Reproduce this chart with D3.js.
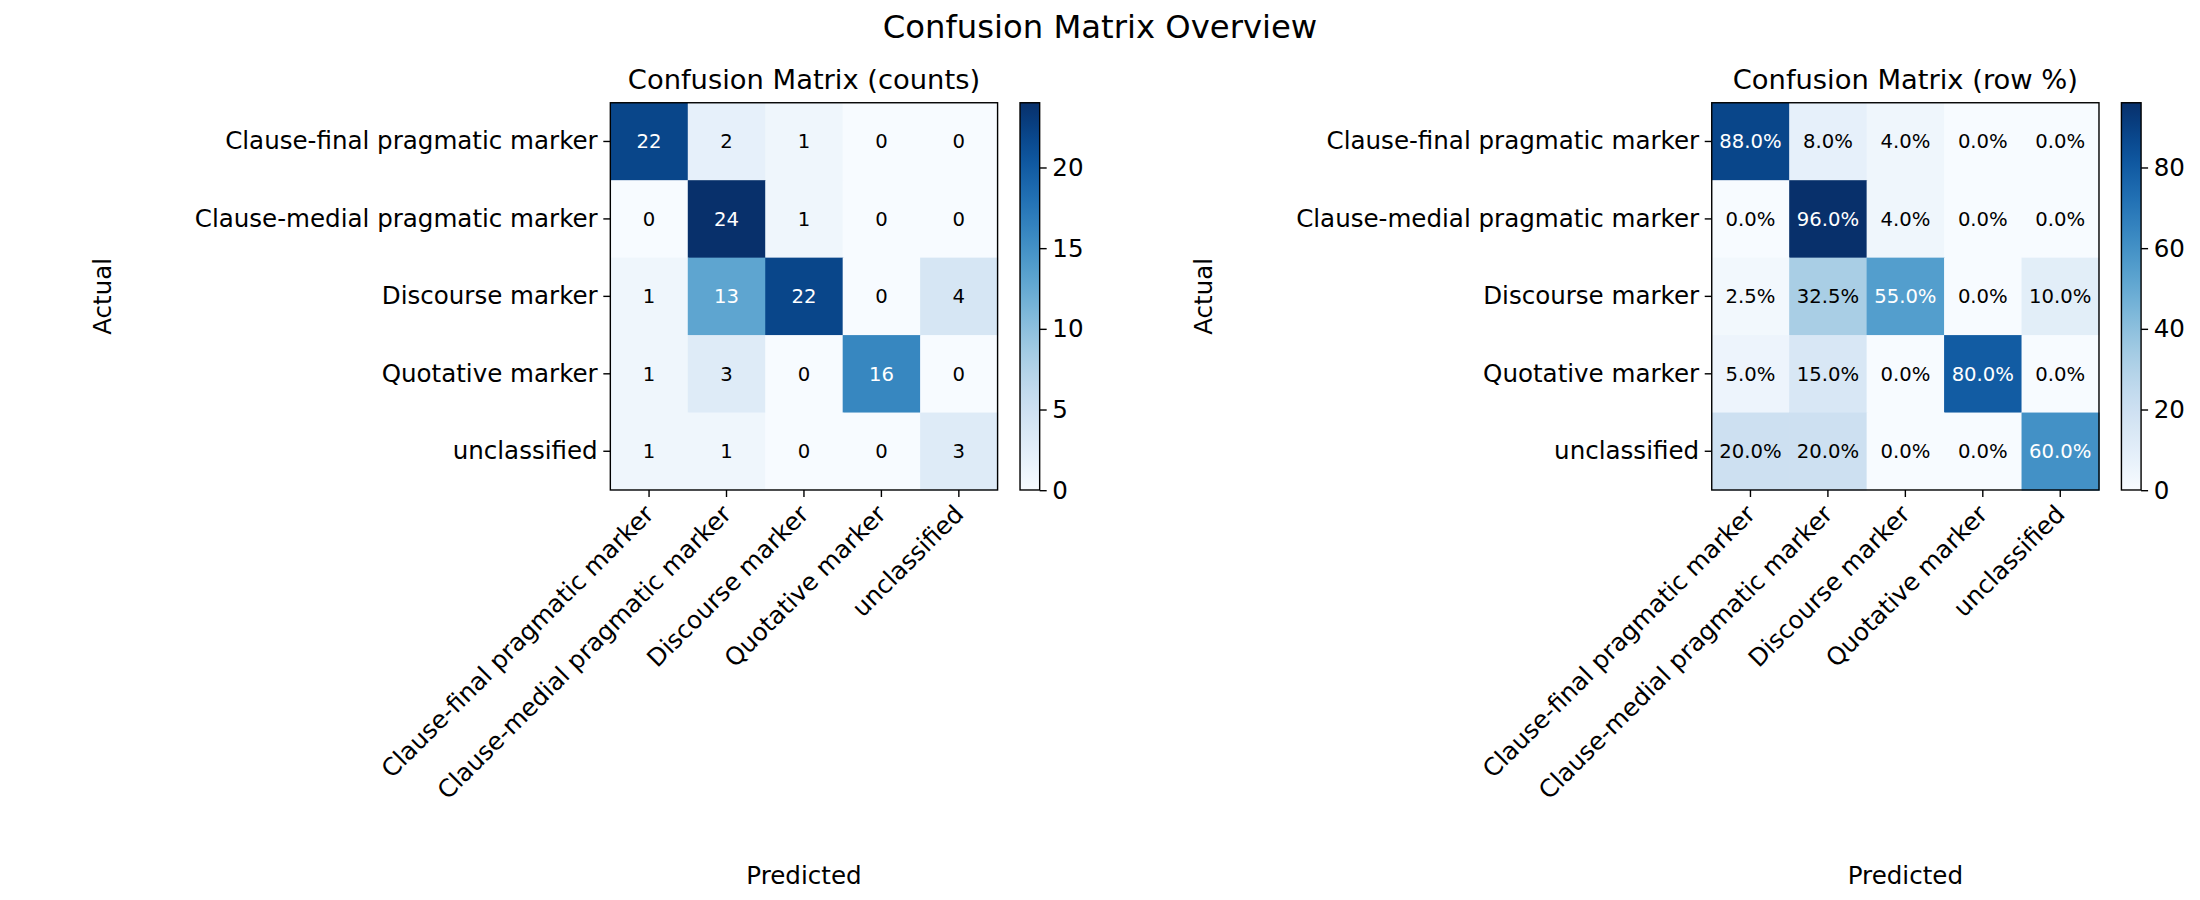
<!DOCTYPE html>
<html>
<head>
<meta charset="utf-8">
<script src="https://cdn.jsdelivr.net/npm/d3@7"></script>
<style>
  body { margin: 0; background: #fff; }
  svg, svg text { font-family: "DejaVu Sans", sans-serif; }
</style>
</head>
<body>
<svg id="svg" width="2200" height="900" viewBox="0 0 1568 641"></svg>
<script>
var labels = ["Clause-final pragmatic marker", "Clause-medial pragmatic marker", "Discourse marker", "Quotative marker", "unclassified"];
var counts = [
    [22, 2, 1, 0, 0],
    [0, 24, 1, 0, 0],
    [1, 13, 22, 0, 4],
    [1, 3, 0, 16, 0],
    [1, 1, 0, 0, 3]
];
var rowPct = [
    [88.0, 8.0, 4.0, 0.0, 0.0],
    [0.0, 96.0, 4.0, 0.0, 0.0],
    [2.5, 32.5, 55.0, 0.0, 10.0],
    [5.0, 15.0, 0.0, 80.0, 0.0],
    [20.0, 20.0, 0.0, 0.0, 60.0]
];
var countTicks = [0, 5, 10, 15, 20];
var pctTicks = [0, 20, 40, 60, 80];

var svg = d3.select('#svg');

svg.append('text').attr('x', 784).attr('y', 27).attr('text-anchor', 'middle')
   .attr('font-size', 23).text('Confusion Matrix Overview');

function drawMatrix(left, title, data, ticks, fmt) {
    var top = 73, size = 276;
    var flat = d3.merge(data);
    var vmax = d3.max(flat), vmin = d3.min(flat);
    var color = d3.scaleSequential(d3.interpolateBlues).domain([vmin, vmax]);
    var x = d3.scaleBand().domain(d3.range(5)).range([left, left + size]);
    var y = d3.scaleBand().domain(d3.range(5)).range([top, top + size]);

    var g = svg.append('g');
    g.append('text').attr('x', left + size / 2).attr('y', top - 10).attr('text-anchor', 'middle')
     .attr('font-size', 19.5).text(title);

    data.forEach(function(row, i) {
        g.selectAll(null).data(row).enter().append('rect')
         .attr('x', function(d, j) { return x(j); })
         .attr('y', y(i))
         .attr('width', x.bandwidth() + 0.5).attr('height', y.bandwidth() + 0.5)
         .attr('fill', function(d) { return color(d); });
        g.selectAll(null).data(row).enter().append('text')
         .attr('x', function(d, j) { return x(j) + x.bandwidth() / 2; })
         .attr('y', y(i) + y.bandwidth() / 2)
         .attr('dy', '0.35em').attr('text-anchor', 'middle').attr('font-size', 14)
         .attr('fill', function(d) { return d > vmax / 2 ? '#fff' : '#000'; })
         .text(fmt);
    });
    g.append('rect').attr('x', left).attr('y', top).attr('width', size).attr('height', size)
     .attr('fill', 'none').attr('stroke', '#000').attr('stroke-width', 1);

    var yAxis = g.append('g').attr('transform', 'translate(' + left + ',0)')
     .call(d3.axisLeft(y).tickSize(5).tickPadding(4).tickFormat(function(i) { return labels[i]; }));
    yAxis.attr('font-family', null).attr('font-size', null);
    yAxis.select('.domain').remove();
    yAxis.selectAll('text').attr('font-size', 17.5).attr('fill', '#000');

    var xAxis = g.append('g').attr('transform', 'translate(0,' + (top + size) + ')')
     .call(d3.axisBottom(x).tickSize(5).tickFormat(function(i) { return labels[i]; }));
    xAxis.attr('font-family', null).attr('font-size', null);
    xAxis.select('.domain').remove();
    xAxis.selectAll('text').attr('font-size', 17.5).attr('fill', '#000')
     .attr('text-anchor', 'end').attr('dy', '0.35em')
     .attr('transform', 'translate(0,14) rotate(-45)').attr('y', 0).attr('x', 0);

    g.append('text').attr('transform', 'translate(' + (left - 356) + ',' + (top + size / 2) + ') rotate(-90)')
     .attr('text-anchor', 'middle').attr('font-size', 17.5).text('Actual');
    g.append('text').attr('x', left + size / 2).attr('y', 630)
     .attr('text-anchor', 'middle').attr('font-size', 17.5).text('Predicted');

    // colorbar
    var cbx = left + size + 16, cbw = 14;
    var cy = d3.scaleLinear().domain([vmin, vmax]).range([top + size, top]);
    var id = 'grad' + left;
    var grad = svg.append('defs').append('linearGradient').attr('id', id)
     .attr('x1', 0).attr('y1', 1).attr('x2', 0).attr('y2', 0);
    d3.range(0, 1.01, 0.05).forEach(function(t) {
        grad.append('stop').attr('offset', t).attr('stop-color', d3.interpolateBlues(t));
    });
    g.append('rect').attr('x', cbx).attr('y', top).attr('width', cbw).attr('height', size)
     .attr('fill', 'url(#' + id + ')').attr('stroke', '#000').attr('stroke-width', 1);
    var cAxis = g.append('g').attr('transform', 'translate(' + (cbx + cbw) + ',0)')
     .call(d3.axisRight(cy).tickValues(ticks).tickSize(5).tickPadding(4));
    cAxis.attr('font-family', null).attr('font-size', null);
    cAxis.select('.domain').remove();
    cAxis.selectAll('text').attr('font-size', 17.5).attr('fill', '#000');
}

drawMatrix(435, 'Confusion Matrix (counts)', counts, countTicks, function(d) { return d; });
drawMatrix(1220, 'Confusion Matrix (row %)', rowPct, pctTicks, function(d) { return d.toFixed(1) + '%'; });
</script>
</body>
</html>
